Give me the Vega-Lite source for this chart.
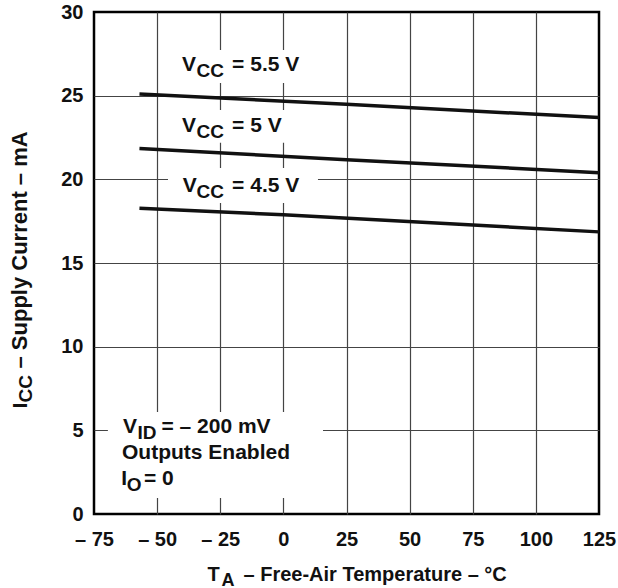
{
  "$schema": "https://vega.github.io/schema/vega-lite/v6.json",
  "width": 505,
  "height": 502,
  "autosize": {"type": "none"},
  "padding": {"left": 94, "top": 12, "right": 19, "bottom": 74},
  "background": "white",
  "config": {
    "view": {"stroke": "#000", "strokeWidth": 2.5},
    "font": "Liberation Sans",
    "axis": {
      "labelFont": "Liberation Sans", "labelFontWeight": "bold", "labelFontSize": 20, "labelColor": "#111",
      "titleFont": "Liberation Sans", "titleFontWeight": "bold", "titleColor": "#111",
      "domain": false, "ticks": false, "tickSize": 0, "grid": false
    }
  },
  "datasets": {
    "curves": [
      {"vcc": "5.5", "t": -57, "icc": 25.1},
      {"vcc": "5.5", "t": 25, "icc": 24.48},
      {"vcc": "5.5", "t": 125, "icc": 23.69},
      {"vcc": "5", "t": -57, "icc": 21.84},
      {"vcc": "5", "t": 25, "icc": 21.17},
      {"vcc": "5", "t": 125, "icc": 20.4},
      {"vcc": "4.5", "t": -57, "icc": 18.27},
      {"vcc": "4.5", "t": 0, "icc": 17.88},
      {"vcc": "4.5", "t": 125, "icc": 16.86}
    ],
    "boxes": [
      {"x_start": -45.7, "x_end": 12, "y_start": 25.76, "y_end": 27.73},
      {"x_start": -45.7, "x_end": 6, "y_start": 22.18, "y_end": 24.15},
      {"x_start": -45.7, "x_end": 13.7, "y_start": 18.59, "y_end": 20.68},
      {"x_start": -69.5, "x_end": 15.7, "y_start": 0.96, "y_end": 6.1}
    ],
    "labels": [
      {"x": -40.15, "y": 26.48, "text": "V", "part": "main"},
      {"x": -34.4, "y": 26.48, "text": "CC", "part": "sub"},
      {"x": -20.3, "y": 26.48, "text": "= 5.5 V", "part": "main"},
      {"x": -40.15, "y": 22.85, "text": "V", "part": "main"},
      {"x": -34.4, "y": 22.85, "text": "CC", "part": "sub"},
      {"x": -20.3, "y": 22.85, "text": "= 5 V", "part": "main"},
      {"x": -39.9, "y": 19.26, "text": "V", "part": "main"},
      {"x": -34.4, "y": 19.26, "text": "CC", "part": "sub"},
      {"x": -20.3, "y": 19.26, "text": "= 4.5 V", "part": "main"},
      {"x": -63.5, "y": 4.84, "text": "V", "part": "main"},
      {"x": -57.8, "y": 4.84, "text": "ID", "part": "sub"},
      {"x": -48.3, "y": 4.84, "text": "= – 200 mV", "part": "main"},
      {"x": -63.9, "y": 3.29, "text": "Outputs Enabled", "part": "main"},
      {"x": -64.2, "y": 1.73, "text": "I", "part": "main"},
      {"x": -62.0, "y": 1.73, "text": "O", "part": "sub"},
      {"x": -55.2, "y": 1.73, "text": "= 0", "part": "main"}
    ]
  },
  "resolve": {"axis": {"x": "independent", "y": "independent"}},
  "layer": [
    {
      "data": {"name": "boxes"},
      "mark": {"type": "rect", "fill": "white", "strokeWidth": 0},
      "encoding": {
        "x": {"field": "x_start", "type": "quantitative", "scale": {"domain": [-75, 125], "nice": false, "zero": false}, "axis": null},
        "x2": {"field": "x_end"},
        "y": {"field": "y_start", "type": "quantitative", "scale": {"domain": [0, 30], "nice": false}, "axis": null},
        "y2": {"field": "y_end"}
      }
    },
    {
      "data": {"name": "curves"},
      "mark": {"type": "line", "color": "#111", "strokeWidth": 3.5},
      "encoding": {
        "x": {
          "field": "t", "type": "quantitative",
          "axis": {
            "orient": "bottom", "values": [-75, -50, -25, 0, 25, 50, 75, 100, 125],
            "labelFlush": false, "labelPadding": 15,
            "labelExpr": "datum.value < 0 ? '– ' + abs(datum.value) : datum.label",
            "title": "T", "titleX": 113, "titleY": 66.5, "titleAlign": "left", "titleBaseline": "alphabetic",
            "titleAngle": 0, "titleFontSize": 20
          }
        },
        "y": {
          "field": "icc", "type": "quantitative",
          "axis": {
            "orient": "left", "values": [0, 5, 10, 15, 20, 25, 30], "labelPadding": 11,
            "title": "I", "titleX": -68, "titleY": 396, "titleAngle": -90, "titleAlign": "left",
            "titleBaseline": "alphabetic", "titleFontSize": 21
          }
        },
        "detail": {"field": "vcc"}
      }
    },
    {
      "data": {"name": "labels"},
      "transform": [{"filter": "datum.part === 'main'"}],
      "mark": {"type": "text", "align": "left", "baseline": "alphabetic", "fontSize": 21, "fontWeight": "bold", "font": "Liberation Sans", "color": "#111"},
      "encoding": {
        "x": {
          "field": "x", "type": "quantitative",
          "axis": {
            "orient": "bottom", "grid": true, "gridColor": "#444", "gridWidth": 1.2,
            "values": [-50, -25, 0, 25, 50, 75, 100], "labels": false,
            "title": "A", "titleX": 127, "titleY": 71, "titleAlign": "left", "titleBaseline": "alphabetic",
            "titleAngle": 0, "titleFontSize": 18
          }
        },
        "y": {
          "field": "y", "type": "quantitative",
          "axis": {
            "orient": "left", "grid": true, "gridColor": "#444", "gridWidth": 1.2,
            "values": [5, 10, 15, 20, 25], "labels": false,
            "title": "CC", "titleX": -63, "titleY": 390, "titleAngle": -90, "titleAlign": "left",
            "titleBaseline": "alphabetic", "titleFontSize": 19
          }
        },
        "text": {"field": "text"}
      }
    },
    {
      "data": {"name": "labels"},
      "transform": [{"filter": "datum.part === 'sub'"}],
      "mark": {"type": "text", "align": "left", "baseline": "alphabetic", "dy": 6, "fontSize": 19, "fontWeight": "bold", "font": "Liberation Sans", "color": "#111"},
      "encoding": {
        "x": {
          "field": "x", "type": "quantitative",
          "axis": {
            "orient": "bottom", "labels": false,
            "title": "– Free-Air Temperature – °C", "titleX": 149, "titleY": 66.5, "titleAlign": "left",
            "titleBaseline": "alphabetic", "titleAngle": 0, "titleFontSize": 20
          }
        },
        "y": {
          "field": "y", "type": "quantitative",
          "axis": {
            "orient": "left", "labels": false,
            "title": "– Supply Current – mA", "titleX": -68, "titleY": 356, "titleAngle": -90, "titleAlign": "left",
            "titleBaseline": "alphabetic", "titleFontSize": 22
          }
        },
        "text": {"field": "text"}
      }
    }
  ]
}
